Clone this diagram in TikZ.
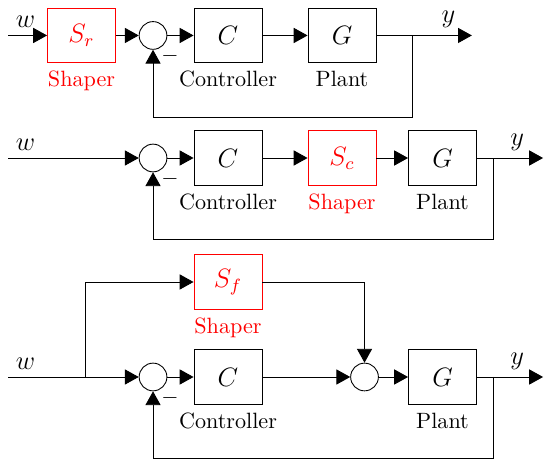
\documentclass[tikz,border=0pt]{standalone}
\usepackage{xcolor}
\usepackage{tikz}
\usetikzlibrary{arrows.meta, positioning}

\begin{document}
\begin{tikzpicture}[
  block/.style={rectangle, draw, minimum width=1.08cm, minimum height=0.87cm,
                font=\large},
  shaper/.style={block, draw=red, text=red},
  sum/.style={circle, draw, minimum size=0.44cm, inner sep=0pt},
  sig/.style={font=\large},
  arr/.style={-{Triangle[length=2.2mm, width=2.4mm]}},
  node distance=0pt
]
\useasboundingbox (0,0) rectangle (8.635,-7.365);

%% ── LOOP 1: shaper on the reference ──────────────────────────────────
\coordinate (w1) at (0.127,-0.563);
\node[shaper] at (1.294,-0.563) (sr) {$S_r$};
\node[sum]    at (2.429,-0.563) (s1) {};
\node[block]  at (3.619,-0.563) (c1) {$C$};
\node[block]  at (5.429,-0.563) (g1) {$G$};
\coordinate (b1) at (6.54,-0.563);
\coordinate (y1) at (7.49,-0.563);
\coordinate (f1) at (6.54,-1.857);

\node[below=of sr, red] (sr-lbl) {Shaper};
\node[below=of c1] (c1-lbl) {Controller};
\node[below=of g1] (g1-lbl) {Plant};
\node[sig, above right] at (w1) (w1-lbl) {$w$};
\node[sig, above] at (7.12,-0.563) (y1-lbl) {$y$};
\node at (2.70,-0.889) (m1) {$-$};

\draw[arr] (w1) -- (sr.west);
\draw[arr] (sr.east) -- (s1.west);
\draw[arr] (s1.east) -- (c1.west);
\draw[arr] (c1.east) -- (g1.west);
\draw (g1.east) -- (b1);
\draw[arr] (b1) -- (y1);
% feedback
\draw[arr] (b1) -- (f1) -| (s1.south);

%% ── LOOP 2: shaper on the control signal ─────────────────────────────
\coordinate (w2) at (0.127,-2.508);
\node[sum]    at (2.429,-2.508) (s2) {};
\node[block]  at (3.619,-2.508) (c2) {$C$};
\node[shaper] at (5.429,-2.508) (sc) {$S_c$};
\node[block]  at (7.024,-2.508) (g2) {$G$};
\coordinate (b2) at (7.825,-2.508);
\coordinate (y2) at (8.62,-2.508);
\coordinate (f2) at (7.825,-3.794);

\node[below=of c2] (c2-lbl) {Controller};
\node[below=of sc, red] (sc-lbl) {Shaper};
\node[below=of g2] (g2-lbl) {Plant};
\node[sig, above right] at (w2) (w2-lbl) {$w$};
\node[sig, above] at (8.21,-2.508) (y2-lbl) {$y$};
\node at (2.70,-2.834) (m2) {$-$};

\draw[arr] (w2) -- (s2.west);
\draw[arr] (s2.east) -- (c2.west);
\draw[arr] (c2.east) -- (sc.west);
\draw[arr] (sc.east) -- (g2.west);
\draw (g2.east) -- (b2);
\draw[arr] (b2) -- (y2);
% feedback
\draw[arr] (b2) -- (f2) -| (s2.south);

%% ── LOOP 3: shaper as feedforward ────────────────────────────────────
\coordinate (w3) at (0.127,-5.984);
\coordinate (p3) at (1.349,-5.984);
\node[shaper] at (3.619,-4.476) (sf) {$S_f$};
\node[sum]    at (2.429,-5.984) (s3) {};
\node[block]  at (3.619,-5.984) (c3) {$C$};
\node[sum]    at (5.786,-5.984) (s4) {};
\node[block]  at (7.024,-5.984) (g3) {$G$};
\coordinate (b3) at (7.825,-5.984);
\coordinate (y3) at (8.62,-5.984);
\coordinate (f3) at (7.825,-7.27);

\node[below=of sf, red] (sf-lbl) {Shaper};
\node[below=of c3] (c3-lbl) {Controller};
\node[below=of g3] (g3-lbl) {Plant};
\node[sig, above right] at (w3) (w3-lbl) {$w$};
\node[sig, above] at (8.21,-5.984) (y3-lbl) {$y$};
\node at (2.70,-6.310) (m3) {$-$};

\draw (w3) -- (p3);
\draw[arr] (p3) -- (s3.west);
\draw[arr] (p3) |- (sf.west);
\draw[arr] (sf.east) -| (s4.north);
\draw[arr] (s3.east) -- (c3.west);
\draw[arr] (c3.east) -- (s4.west);
\draw[arr] (s4.east) -- (g3.west);
\draw (g3.east) -- (b3);
\draw[arr] (b3) -- (y3);
% feedback
\draw[arr] (b3) -- (f3) -| (s3.south);

\end{tikzpicture}
\end{document}
